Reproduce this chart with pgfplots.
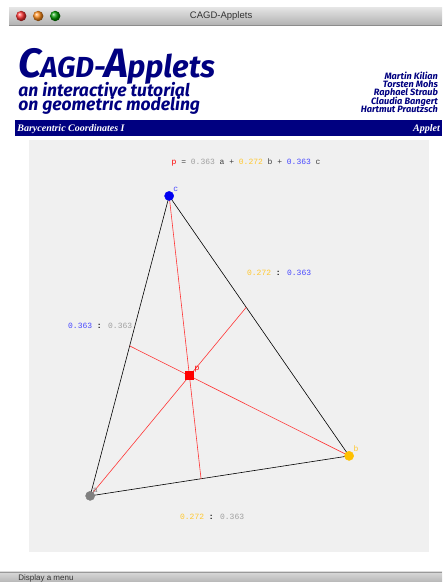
\documentclass[border=0pt]{standalone}
\usepackage{pgfplots}
\pgfplotsset{compat=1.18}
\usepackage{fontspec}
\setmainfont{Liberation Serif}
\newfontfamily\logofont{Fira Sans}
\newfontfamily\mono{Liberation Mono}
\newfontfamily\ui{Liberation Sans}
\definecolor{navy}{HTML}{000080}
\definecolor{panel}{HTML}{F0F0F0}
\definecolor{ptgray}{HTML}{808080}
\definecolor{ptyel}{HTML}{FFC000}
\definecolor{ptblue}{HTML}{0000F0}
\definecolor{txgray}{HTML}{A0A0A0}
\definecolor{txyel}{HTML}{FFC830}
\definecolor{txblue}{HTML}{4848FF}
\definecolor{txdark}{HTML}{404040}
\definecolor{cevian}{HTML}{FF3535}
\newcommand\mt{\mono\fontsize{8}{9}\selectfont}
\newcommand\vt{\mono\fontsize{8}{8}\selectfont}
\newcommand\authfont{\logofont\bfseries\itshape\fontsize{9.2}{9}\selectfont}
\begin{document}
\begin{tikzpicture}
\begin{axis}[width=442pt,height=582pt,scale only axis,axis lines=none,
  xmin=0,xmax=442,ymin=0,ymax=582,y dir=reverse,clip=false]
% ---- window chrome ----
\fill[white] (0,0) rectangle (442,582);
\shade[top color=black!10, bottom color=black!30] (9,7) rectangle (442,25);
\draw[black!45] (9,25) -- (442,25);
\shade[ball color=red!80] (21,16) circle[radius=5.2];
\shade[ball color=orange!90] (38,16) circle[radius=5.2];
\shade[ball color=green!60!black] (55,16) circle[radius=5.2];
\node[font=\ui\fontsize{9.5}{10}\selectfont, text=black!80] at (221,16) {CAGD-Applets};
% logo
\node[anchor=base west, inner sep=0, text=navy, font=\logofont\bfseries\itshape] at (18,78)
  {\fontsize{41}{41}\selectfont C\kern-1pt\fontsize{29}{29}\selectfont AGD-\kern-1pt\fontsize{41}{41}\selectfont A\kern-1pt\fontsize{31}{31}\selectfont pplets};
\node[anchor=base west, inner sep=0, text=navy, font=\logofont\bfseries\itshape\fontsize{17.5}{18}\selectfont] at (18,96.5) {an interactive tutorial};
\node[anchor=base west, inner sep=0, text=navy, font=\logofont\bfseries\itshape\fontsize{17.5}{18}\selectfont] at (18,110.5) {on geometric modeling};
\node[anchor=base east, inner sep=0, text=navy, font=\authfont] at (438,79.5) {Martin Kilian};
\node[anchor=base east, inner sep=0, text=navy, font=\authfont] at (438,87.7) {Torsten Mohs};
\node[anchor=base east, inner sep=0, text=navy, font=\authfont] at (438,95.9) {Raphael Straub};
\node[anchor=base east, inner sep=0, text=navy, font=\authfont] at (438,104.1) {Claudia Bangert};
\node[anchor=base east, inner sep=0, text=navy, font=\authfont] at (438,112.3) {Hartmut Prautzsch};
% title bar
\fill[navy] (15,120) rectangle (442,136);
\node[anchor=base west, inner sep=0, text=white, font=\bfseries\itshape\fontsize{10}{10}\selectfont] at (17,132) {Barycentric Coordinates I};
\node[anchor=base east, inner sep=0, text=white, font=\bfseries\itshape\fontsize{10}{10}\selectfont] at (440,132) {Applet};
% panel
\fill[panel] (29,140) rectangle (429,552);
% status bar
\shade[top color=black!15, bottom color=black!28] (0,572) rectangle (442,582);
\draw[black!40] (0,572) -- (442,572);
\node[anchor=base west, inner sep=0, text=black!80, font=\ui\fontsize{8}{8}\selectfont] at (18,580.5) {Display a menu};
% ---- geometry ----
\addplot[black, line width=0.6pt] coordinates {(90,496) (349,456) (169,196) (90,496)};
\addplot[cevian, line width=0.6pt] coordinates {(90,496) (246.1,307.4)};
\addplot[cevian, line width=0.6pt] coordinates {(169,196) (200.9,478.9)};
\addplot[cevian, line width=0.6pt] coordinates {(349,456) (129.5,346)};
\addplot[only marks, mark=*, mark size=4.6, color=ptgray] coordinates {(90,496)};
\addplot[only marks, mark=*, mark size=4.6, color=ptyel] coordinates {(349,456)};
\addplot[only marks, mark=*, mark size=4.6, color=ptblue] coordinates {(169,196)};
\addplot[only marks, mark=square*, mark size=4.2, color=red] coordinates {(189,375.5)};
% vertex labels
\node[font=\vt, text=txblue, inner sep=0] at (175.5,189) {c};
\node[font=\vt, text=txyel, inner sep=0] at (356,448.5) {b};
\node[font=\vt, text=ptgray, inner sep=0] at (95,490.5) {a};
\node[font=\vt, text=red, inner sep=0] at (197,369) {p};
% texts
\node[font=\mt, inner sep=0] at (246,162) {\textcolor{red}{p} \textcolor{txdark}{=} \textcolor{txgray}{0.363} \textcolor{txdark}{a +} \textcolor{txyel}{0.272} \textcolor{txdark}{b +} \textcolor{txblue}{0.363} \textcolor{txdark}{c}};
\node[font=\mt, inner sep=0] at (100,326) {\textcolor{txblue}{0.363} \textbf{:} \textcolor{txgray}{0.363}};
\node[font=\mt, inner sep=0] at (279,273) {\textcolor{txyel}{0.272} \textbf{:} \textcolor{txblue}{0.363}};
\node[font=\mt, inner sep=0] at (212,517) {\textcolor{txyel}{0.272} \textbf{:} \textcolor{txgray}{0.363}};
\end{axis}
\end{tikzpicture}
\end{document}
